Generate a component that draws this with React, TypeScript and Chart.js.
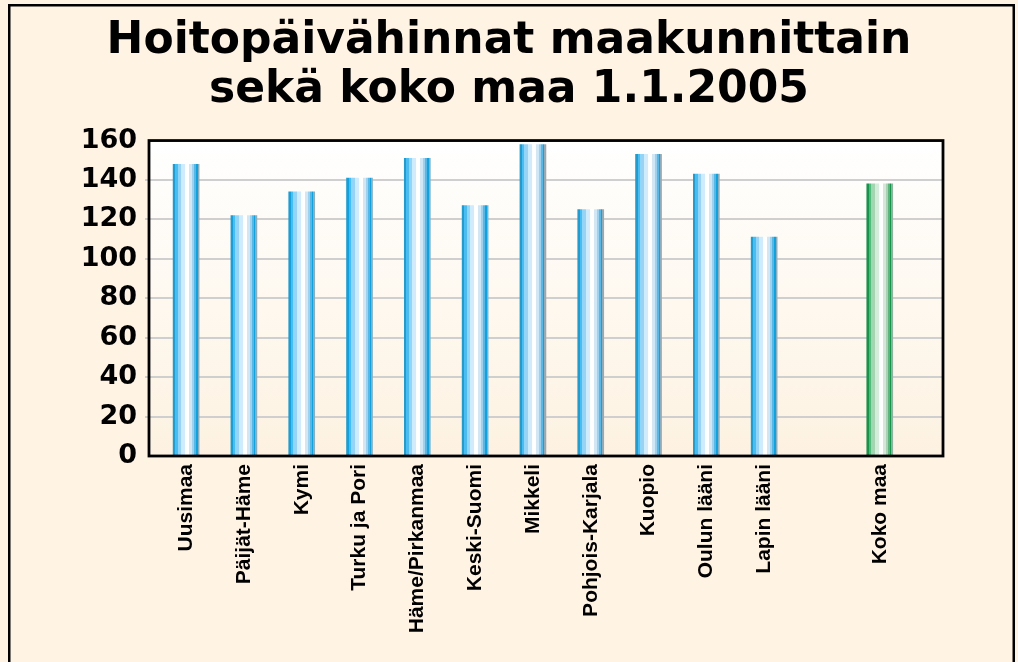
import React, { useEffect, useRef } from "react";
import { Chart, registerables } from "chart.js";

Chart.register(...registerables);

const titleLines = ["Hoitopäivähinnat maakunnittain", "sekä koko maa 1.1.2005"];

const categories = [
  "Uusimaa",
  "Päijät-Häme",
  "Kymi",
  "Turku ja Pori",
  "Häme/Pirkanmaa",
  "Keski-Suomi",
  "Mikkeli",
  "Pohjois-Karjala",
  "Kuopio",
  "Oulun lääni",
  "Lapin lääni",
  "",
  "Koko maa",
];

const values: (number | null)[] = [148, 122, 134, 141, 151, 127, 158, 125, 153, 143, 111, null, 138];

const yTickValues = [0, 20, 40, 60, 80, 100, 120, 140, 160];

const totalLabel = "Koko maa";

const BAR_W = 26;
const blueStripes: [number, number, string][] = [
  [0, 2, "#0aa3e3"],
  [2, 4.5, "#4fbbec"],
  [4.5, 8, "#99d3f3"],
  [8, 12, "#d2eafa"],
  [12, 16, "#ffffff"],
  [16, 19, "#cfe8f8"],
  [19, 21, "#99d3f3"],
  [21, 23, "#4fbbec"],
  [23, 24.5, "#0aa3e3"],
  [24.5, 26, "#a5a5a5"],
];
const greenStripes: [number, number, string][] = [
  [0, 2, "#0b9a47"],
  [2, 4.5, "#5ab67d"],
  [4.5, 8, "#a6d4b3"],
  [8, 12, "#d5ebdb"],
  [12, 16, "#ffffff"],
  [16, 19, "#d3e9d8"],
  [19, 21, "#a6d4b3"],
  [21, 23, "#5ab67d"],
  [23, 24.5, "#0b9a47"],
  [24.5, 26, "#a5a5a5"],
];

const PAGE_BG = "#fff3e3";

function stripeGradient(ctx: CanvasRenderingContext2D, left: number, stripes: [number, number, string][]) {
  const g = ctx.createLinearGradient(left, 0, left + BAR_W, 0);
  for (const [a, b, col] of stripes) {
    g.addColorStop(Math.min(1, a / BAR_W), col);
    g.addColorStop(Math.min(1, b / BAR_W), col);
  }
  return g;
}

const framePlugin = {
  id: "framePlugin",
  beforeDraw(chart: any) {
    const { ctx, chartArea } = chart;
    ctx.save();
    ctx.fillStyle = PAGE_BG;
    ctx.fillRect(0, 0, chart.width, chart.height);
    ctx.strokeStyle = "#000";
    ctx.lineWidth = 2.5;
    ctx.strokeRect(9.25, 5.25, 1004.5, 720);
    if (chartArea) {
      const g = ctx.createLinearGradient(0, chartArea.top, 0, chartArea.bottom);
      g.addColorStop(0, "#ffffff");
      g.addColorStop(1, "#fdf2e1");
      ctx.fillStyle = g;
      ctx.fillRect(chartArea.left, chartArea.top, chartArea.right - chartArea.left, chartArea.bottom - chartArea.top);
    }
    ctx.restore();
  },
  afterDatasetsDraw(chart: any) {
    const { ctx, chartArea } = chart;
    ctx.save();
    ctx.strokeStyle = "#000";
    ctx.lineWidth = 2.8;
    ctx.strokeRect(chartArea.left, chartArea.top, chartArea.right - chartArea.left, chartArea.bottom - chartArea.top);
    ctx.restore();
  },
};

export default function App() {
  const ref = useRef<HTMLCanvasElement>(null);

  useEffect(() => {
    document.body.style.margin = "0";
    document.body.style.overflow = "hidden";
    document.documentElement.style.overflow = "hidden";
    const canvas = ref.current;
    if (!canvas) return;
    const chart = new Chart(canvas, {
      type: "bar",
      data: {
        datasets: [
          {
            data: values.map((v, i) => ({ x: i, y: v })) as any,
            barThickness: BAR_W,
            borderWidth: 0,
            backgroundColor: (c: any) => {
              const ch = c.chart;
              const isTotal = categories[c.dataIndex] === totalLabel;
              const stripes = isTotal ? greenStripes : blueStripes;
              if (!ch.chartArea || !ch.scales.x) return stripes[0][2];
              const cx = ch.scales.x.getPixelForValue(c.dataIndex);
              return stripeGradient(ch.ctx, cx - BAR_W / 2, stripes);
            },
          },
        ],
      },
      options: {
        animation: false,
        responsive: false,
        devicePixelRatio: 1,
        layout: { padding: { left: 0, right: 0, top: 0, bottom: 0 } },
        plugins: {
          legend: { display: false },
          tooltip: { enabled: false },
          title: {
            display: true,
            text: titleLines,
            color: "#000",
            font: { family: "DejaVu Sans", weight: "bold", size: 44, lineHeight: 1.12 },
            padding: { top: 17, bottom: 25 },
          },
        },
        scales: {
          x: {
            type: "linear",
            min: -0.642,
            max: 13.094,
            offset: false,
            grid: { display: false },
            border: { display: false },
            afterBuildTicks: (scale: any) => {
              scale.ticks = categories
                .map((c, i) => ({ value: i, label: c }))
                .filter((t) => t.label !== "")
                .map((t) => ({ value: t.value }));
            },
            afterFit: (scale: any) => {
              scale.height = 206;
            },
            ticks: {
              autoSkip: false,
              minRotation: 90,
              maxRotation: 90,
              padding: 0,
              color: "#000",
              font: { family: "Liberation Sans", weight: "bold", size: 21 },
              callback: (v: any) => categories[v as number],
            },
          },
          y: {
            min: 0,
            max: 160,
            afterBuildTicks: (scale: any) => {
              scale.ticks = yTickValues.map((v) => ({ value: v }));
            },
            afterFit: (scale: any) => {
              scale.width = 149;
            },
            border: { display: false },
            grid: {
              color: (c: any) => (c.tick && (c.tick.value === 0 || c.tick.value === 160) ? "rgba(0,0,0,0)" : "#cfcfcf"),
              lineWidth: 2,
              tickLength: 4,
            },
            ticks: {
              padding: 8,
              color: "#000",
              font: { family: "DejaVu Sans", weight: "bold", size: 27 },
            },
          },
          y2: {
            position: "right",
            min: 0,
            max: 160,
            grid: { display: false, drawOnChartArea: false },
            border: { display: false },
            ticks: { display: false },
            afterFit: (scale: any) => {
              scale.width = 75;
            },
          },
        },
      },
      plugins: [framePlugin],
    });
    return () => chart.destroy();
  }, []);

  return (
    <div style={{ width: 1018, height: 662, background: PAGE_BG }}>
      <canvas ref={ref} width={1018} height={662} style={{ display: "block" }} />
    </div>
  );
}
